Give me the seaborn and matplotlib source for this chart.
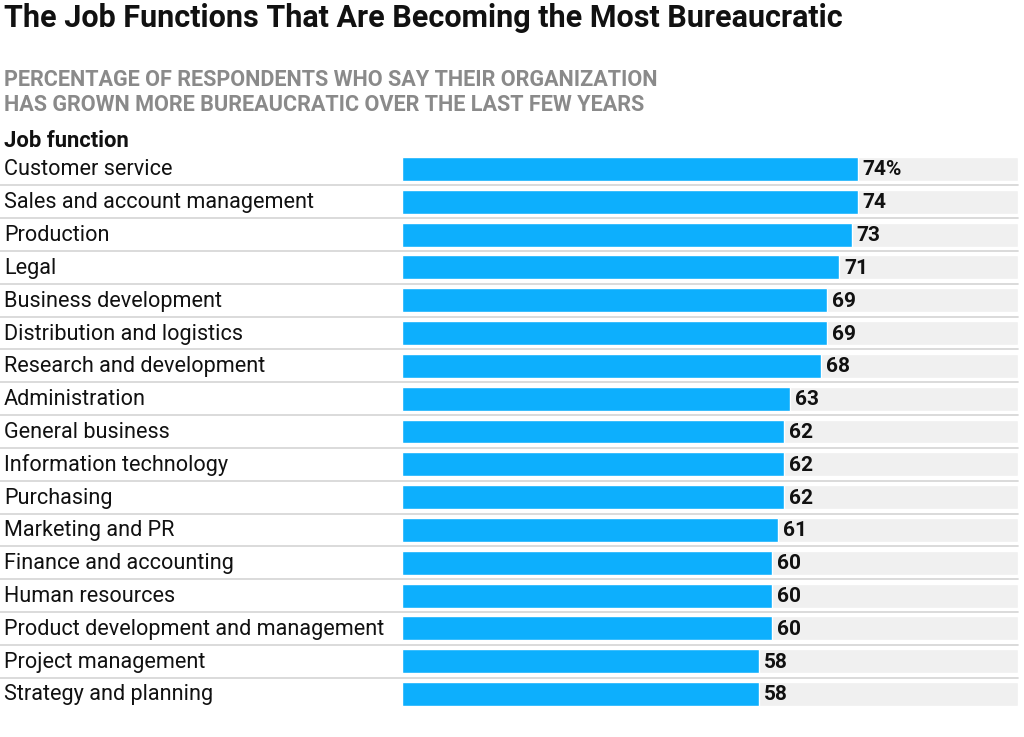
import matplotlib
matplotlib.use("Agg")
import matplotlib.pyplot as plt
import seaborn as sns
import pandas as pd

categories = ["Customer service", "Sales and account management", "Production", "Legal",
              "Business development", "Distribution and logistics", "Research and development",
              "Administration", "General business", "Information technology", "Purchasing",
              "Marketing and PR", "Finance and accounting", "Human resources",
              "Product development and management", "Project management", "Strategy and planning"]
values = [74, 74, 73, 71, 69, 69, 68, 63, 62, 62, 62, 61, 60, 60, 60, 58, 58]
value_labels = ["74%"] + [str(v) for v in values[1:]]
full_scale = [100] * len(categories)

sns.set_theme(style="white")
plt.rcParams['font.family'] = ['Roboto', 'DejaVu Sans']

df = pd.DataFrame({"cat": categories, "val": values, "full": full_scale})

W, H = 1024, 737
fig = plt.figure(figsize=(W / 100, H / 100), dpi=100)
ax_left, ax_right = 402 / W, 1018 / W
ax_top, ax_bottom = 1 - 152.6 / H, 1 - 710.4 / H
ax = fig.add_axes([ax_left, ax_bottom, ax_right - ax_left, ax_top - ax_bottom])

bw = 0.73
sns.barplot(data=df, y="cat", x="full", color="#f0f0f0", width=bw, ax=ax, orient="h", saturation=1)
sns.barplot(data=df, y="cat", x="val", color="#0daffd", width=bw, ax=ax, orient="h", saturation=1)

ax.set_xlim(0, 100)
ax.set_ylim(len(categories) - 0.5, -0.5)
ax.set_xticks([])
ax.set_yticks([])
ax.set_xlabel("")
ax.set_ylabel("")
for s in ax.spines.values():
    s.set_visible(False)

trans = matplotlib.transforms.blended_transform_factory(fig.transFigure, ax.transData)
for i, (c, v, lab) in enumerate(zip(categories, values, value_labels)):
    ax.text(v + 0.8, i + 0.03, lab, va="center", ha="left", fontsize=15, fontweight="bold", color="#111111")
    ax.text(4 / W, i + 0.03, c, transform=trans, va="center", ha="left", fontsize=15.6, color="#111111")
    if i < len(categories) - 1:
        ax.plot([0, ax_right], [i + 0.5, i + 0.5], transform=trans, color="#d4d4d4",
                lw=1.2, clip_on=False)

fig.text(4 / W, 1 - 18 / H, "The Job Functions That Are Becoming the Most Bureaucratic",
         fontsize=22, fontweight="bold", va="center", ha="left", color="#111111")
fig.text(4 / W, 1 - 92.5 / H,
         "PERCENTAGE OF RESPONDENTS WHO SAY THEIR ORGANIZATION\nHAS GROWN MORE BUREAUCRATIC OVER THE LAST FEW YEARS",
         fontsize=15.6, fontweight="bold", va="center", ha="left", color="#8a8a8a", linespacing=1.12)
fig.text(4 / W, 1 - 141 / H, "Job function", fontsize=15.8, fontweight="bold", va="center",
         ha="left", color="#111111")

fig.savefig("out.png", dpi=100)
